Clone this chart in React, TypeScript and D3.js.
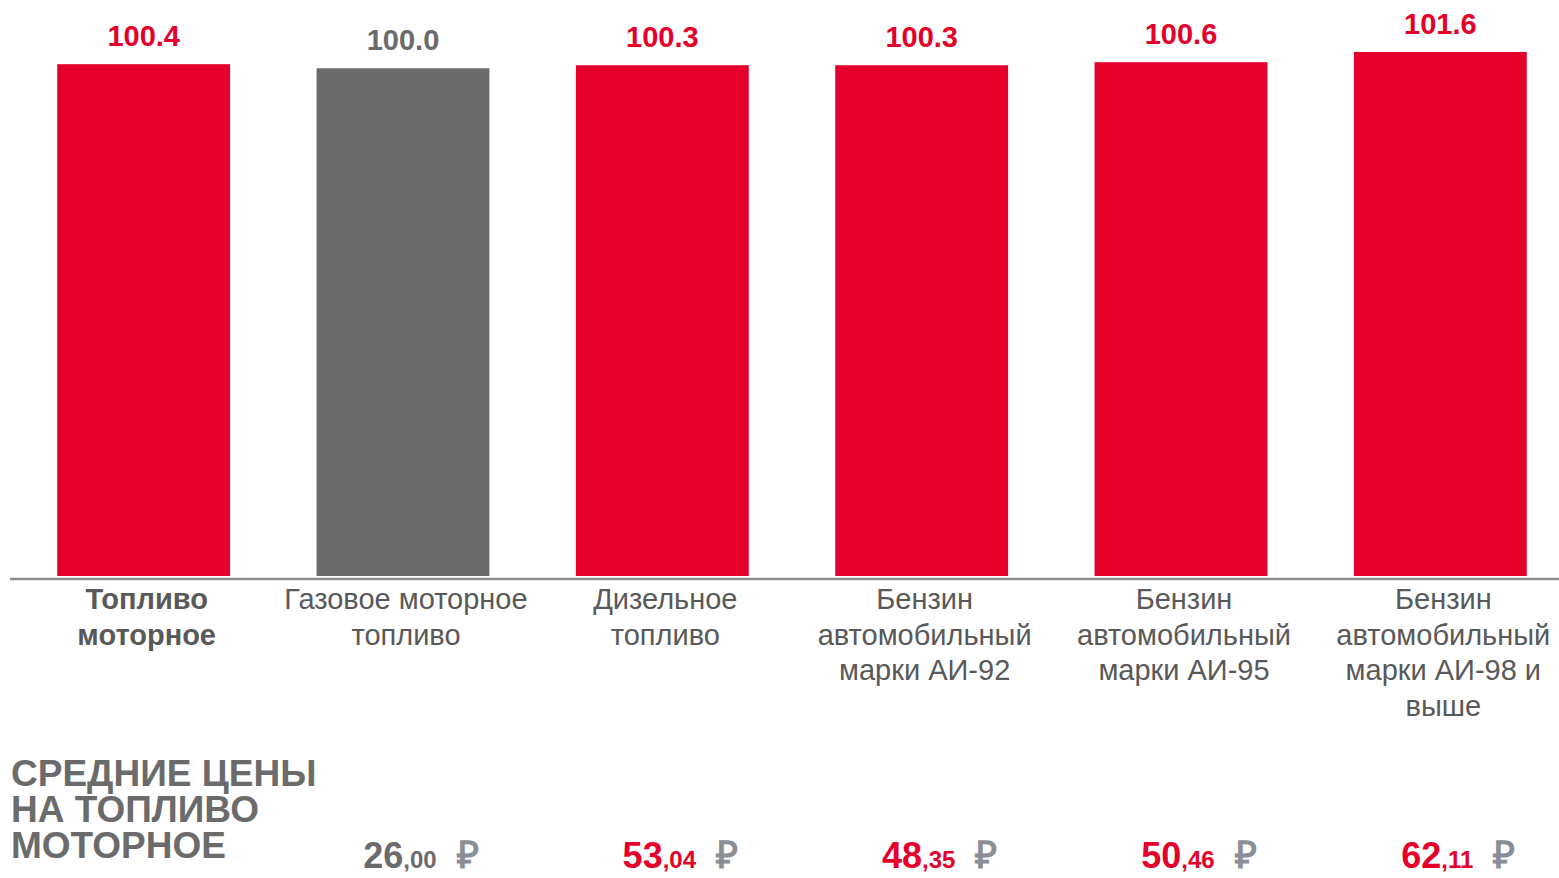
import { useRef, useEffect } from "react";
import * as d3 from "d3";

// Индексы цен, % к предыдущему периоду
const categories = [
  ["Топливо", "моторное"],
  ["Газовое моторное", "топливо"],
  ["Дизельное", "топливо"],
  ["Бензин", "автомобильный", "марки АИ-92"],
  ["Бензин", "автомобильный", "марки АИ-95"],
  ["Бензин", "автомобильный", "марки АИ-98 и", "выше"],
];
const values = [100.4, 100.0, 100.3, 100.3, 100.6, 101.6];
const valueLabels = ["100.4", "100.0", "100.3", "100.3", "100.6", "101.6"];
const highlighted = [true, false, true, true, true, true];

// Средние цены, руб. (для категорий 2..6)
const priceWhole = ["26", "53", "48", "50", "62"];
const priceFraction = ["00", "04", "35", "46", "11"];
const priceIsRed = [false, true, true, true, true];

const titleLines = ["СРЕДНИЕ ЦЕНЫ", "НА ТОПЛИВО", "МОТОРНОЕ"];

const RED = "#e4002b";
const GRAY = "#6b6b6b";
const TEXT = "#595959";
const RUB = "#8b8e96";
const FONT = "'Liberation Sans', Arial, sans-serif";

export default function App() {
  const svgRef = useRef<SVGSVGElement>(null);

  useEffect(() => {
    if (!svgRef.current) return;
    const svg = d3.select(svgRef.current);
    svg.selectAll("*").remove();

    const width = 1559;
    const height = 878;
    const baseline = 576;

    const x = d3
      .scaleBand<number>()
      .domain(d3.range(values.length))
      .range([14, 1570])
      .paddingInner(1 / 3)
      .paddingOuter(1 / 6);

    const y = d3.scaleLinear().domain([50, 101.6]).range([baseline, 52]);

    svg.attr("viewBox", `0 0 ${width} ${height}`);
    const g = svg.append("g").attr("font-family", FONT);

    // Bars
    g.selectAll(".bar")
      .data(values)
      .enter()
      .append("rect")
      .attr("x", (_, i) => x(i) || 0)
      .attr("y", (d) => y(d))
      .attr("width", x.bandwidth())
      .attr("height", (d) => baseline - y(d))
      .attr("fill", (_, i) => (highlighted[i] ? RED : GRAY));

    // Value labels
    g.selectAll(".val")
      .data(values)
      .enter()
      .append("text")
      .attr("x", (_, i) => (x(i) || 0) + x.bandwidth() / 2)
      .attr("y", (d) => y(d) - 18)
      .attr("text-anchor", "middle")
      .attr("font-size", 29)
      .attr("font-weight", "bold")
      .attr("fill", (_, i) => (highlighted[i] ? RED : GRAY))
      .text((_, i) => valueLabels[i]);

    // Axis line
    g.append("line")
      .attr("x1", 10)
      .attr("x2", width)
      .attr("y1", 579)
      .attr("y2", 579)
      .attr("stroke", "#8c8c8c")
      .attr("stroke-width", 2.5);

    // Category labels
    const cat = g
      .selectAll(".cat")
      .data(categories)
      .enter()
      .append("text")
      .attr("text-anchor", "middle")
      .attr("font-size", 29)
      .attr("font-weight", (_, i) => (i === 0 ? "bold" : "normal"))
      .attr("fill", TEXT);
    cat
      .selectAll("tspan")
      .data((d, i) => d.map((line) => ({ line, i })))
      .enter()
      .append("tspan")
      .attr("x", (d) => (x(d.i) || 0) + x.bandwidth() / 2 + 3)
      .attr("y", (_, j) => 609 + j * 35.5)
      .text((d) => d.line);

    // Title
    const title = g
      .append("text")
      .attr("font-size", 37)
      .attr("font-weight", "bold")
      .attr("fill", GRAY);
    title
      .selectAll("tspan")
      .data(titleLines)
      .enter()
      .append("tspan")
      .attr("x", 11)
      .attr("y", (_, j) => 786 + j * 36)
      .text((d) => d);

    // Prices
    const price = g
      .selectAll(".price")
      .data(priceWhole)
      .enter()
      .append("text")
      .attr("x", (_, i) => (x(i + 1) || 0) + x.bandwidth() / 2 + 18)
      .attr("y", 868)
      .attr("text-anchor", "middle")
      .attr("font-weight", "bold")
      .attr("fill", (_, i) => (priceIsRed[i] ? RED : GRAY));
    price
      .append("tspan")
      .attr("font-size", 36)
      .text((d) => d);
    price
      .append("tspan")
      .attr("font-size", 24)
      .text((_, i) => "," + priceFraction[i]);
    price
      .append("tspan")
      .attr("dx", 20)
      .attr("font-size", 38)
      .attr("fill", RUB)
      .text("₽");
  }, []);

  return (
    <svg
      ref={svgRef}
      width={1559}
      height={878}
      style={{ position: "absolute", left: 0, top: 0, background: "#fff" }}
    />
  );
}
